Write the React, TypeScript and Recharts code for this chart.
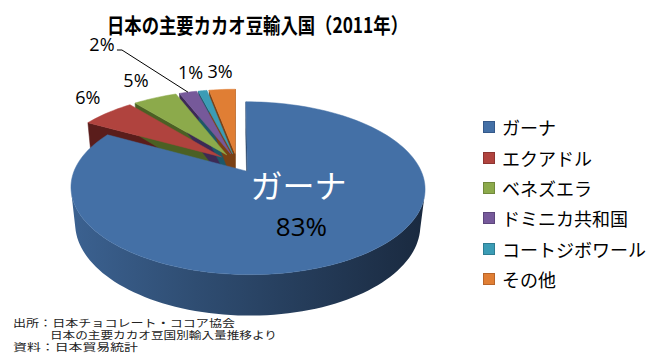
import React from "react";
import { PieChart, Pie, Cell, Legend } from "recharts";

if (typeof document !== "undefined") document.body.style.margin = "0";

// ---- data ----
const countries = ["ガーナ", "エクアドル", "ベネズエラ", "ドミニカ共和国", "コートジボワール", "その他"];
const shares = [83, 6, 5, 2, 1, 3];
const titleText = "日本の主要カカオ豆輸入国（2011年）";
const sourceLines = ["出所：日本チョコレート・ココア協会", "日本の主要カカオ豆国別輸入量推移より", "資料：日本貿易統計"];

const data = countries.map((name, i) => ({ name, value: shares[i] }));

// ---- style ----
const TOP = ["#4470A6", "#B0433E", "#8CAA4B", "#76599A", "#3B9CB5", "#E07E34"];
const SIDE = ["#2a4566", "#5a1d1b", "#4b6024", "#3c2a55", "#1e5767", "#7a4014"];
const LEG_BORDER = ["#35598a", "#8e3431", "#71893b", "#5d467c", "#2e7d92", "#b8652a"];
const JP = "'Noto Sans CJK JP', 'Noto Sans', sans-serif";
const NUM = "'Open Sans', 'Noto Sans', sans-serif";

const RAD = Math.PI / 180;
const VIEW = { F: 790, D: 4.64, tilt: 28, H: 0.24, explode: 0.12 };
const ST = Math.sin(VIEW.tilt * RAD);
const CT = Math.cos(VIEW.tilt * RAD);
const CX = 237;
const CY = 163;

// label nudges (px) relative to computed anchor
const LABEL_R = 1.2;
const LABEL_NUDGE: [number, number][] = [[0, 0], [0, -8], [-7, -8], [-79, -38], [-7, -8], [0, -8]];
const LEADER = [false, false, false, true, false, false];
const GHANA_NAME_OFF: [number, number] = [7, -22];
const GHANA_PCT_OFF: [number, number] = [10, 20];

function project(cx: number, cy: number, X: number, Y: number, Z: number): [number, number] {
  const up = Y * CT - Z * ST;
  const w = VIEW.D - (Y * ST + Z * CT);
  return [cx + (VIEW.F * X) / w, cy - (VIEW.F * up) / w];
}

function geometry(props: any) {
  const { cx, cy, startAngle, endAngle } = props;
  const mid = (startAngle + endAngle) / 2;
  const ox = VIEW.explode * Math.cos(mid * RAD);
  const oz = -VIEW.explode * Math.sin(mid * RAD);
  const n = Math.max(6, Math.ceil(Math.abs(endAngle - startAngle) / 2));
  const angles: number[] = [];
  for (let k = 0; k <= n; k++) angles.push(startAngle + ((endAngle - startAngle) * k) / n);
  const pt = (a: number, r: number, Y: number) =>
    project(cx, cy, ox + r * Math.cos(a * RAD), Y, oz - r * Math.sin(a * RAD));
  return { cx, cy, mid, ox, oz, angles, pt, startAngle, endAngle };
}

const toPath = (pts: [number, number][]) =>
  "M" + pts.map((p) => `${p[0].toFixed(2)},${p[1].toFixed(2)}`).join("L") + "Z";

function renderSides(props: any) {
  const g = geometry(props);
  const i = props.index;
  const H = -VIEW.H;
  const camZ = VIEW.D * CT;
  const els: any[] = [];
  const sign = Math.sign(g.endAngle - g.startAngle) || 1;
  const edges = [
    { a: g.startAngle, n: [sign * Math.sin(g.startAngle * RAD), sign * Math.cos(g.startAngle * RAD)] },
    { a: g.endAngle, n: [-sign * Math.sin(g.endAngle * RAD), -sign * Math.cos(g.endAngle * RAD)] },
  ];
  edges.forEach((e, k) => {
    const vis = e.n[0] * (0 - g.ox) + e.n[1] * (camZ - g.oz) > 0;
    if (!vis) return;
    const o1 = g.pt(0, 0, 0);
    const p1 = g.pt(e.a, 1, 0);
    const p2 = g.pt(e.a, 1, H);
    const o2 = g.pt(0, 0, H);
    els.push(<path key={"f" + k} d={toPath([o1, p1, p2, o2])} fill={SIDE[i]} stroke={SIDE[i]} strokeWidth={0.5} />);
  });
  const vis = g.angles.map((a) => {
    const nx = Math.cos(a * RAD);
    const nz = -Math.sin(a * RAD);
    const px = g.ox + nx;
    const pz = g.oz + nz;
    return nx * (0 - px) + nz * (camZ - pz) > 0;
  });
  let run: number[] = [];
  const runs: number[][] = [];
  for (let k = 0; k < g.angles.length - 1; k++) {
    if (vis[k] || vis[k + 1]) run.push(k);
    else if (run.length) {
      runs.push(run);
      run = [];
    }
  }
  if (run.length) runs.push(run);
  const gid = "wallGrad" + i;
  runs.forEach((r, k) => {
    const top: [number, number][] = [];
    const bot: [number, number][] = [];
    for (let j = r[0]; j <= r[r.length - 1] + 1; j++) {
      top.push(g.pt(g.angles[j], 1, 0));
      bot.push(g.pt(g.angles[j], 1, H));
    }
    els.push(
      <path key={"w" + k} d={toPath([...top, ...bot.reverse()])} fill={`url(#${gid})`} stroke="none" />
    );
  });
  const xl = g.pt(180, 1, 0)[0];
  const xr = g.pt(0, 1, 0)[0];
  return (
    <g key={"side" + i}>
      <defs>
        <linearGradient id={gid} gradientUnits="userSpaceOnUse" x1={xl} y1={0} x2={xr} y2={0}>
          <stop offset="0%" stopColor={i === 0 ? "#3b6190" : SIDE[i]} />
          <stop offset="35%" stopColor={i === 0 ? "#2f4d72" : SIDE[i]} />
          <stop offset="100%" stopColor={i === 0 ? "#1a2a40" : SIDE[i]} />
        </linearGradient>
      </defs>
      {els}
    </g>
  );
}

function renderTops(props: any) {
  const g = geometry(props);
  const i = props.index;
  const pts: [number, number][] = [g.pt(0, 0, 0), ...g.angles.map((a) => g.pt(a, 1, 0))];
  const pctText = `${Math.round((props.percent ?? props.value / 100) * 100)}%`;
  const els: any[] = [<path key="top" d={toPath(pts)} fill={TOP[i]} stroke={TOP[i]} strokeWidth={0.5} />];
  if (i === 0) {
    const a = g.pt(g.mid, 0.45, 0);
    els.push(
      <text key="nm" x={a[0] + GHANA_NAME_OFF[0]} y={a[1] + GHANA_NAME_OFF[1]} fill="#fff" fontSize={32}
        fontFamily={JP} textAnchor="middle" dominantBaseline="central">{props.name}</text>
    );
    els.push(
      <text key="pc" x={a[0] + GHANA_PCT_OFF[0]} y={a[1] + GHANA_PCT_OFF[1]} fill="#000" fontSize={26}
        fontFamily={NUM} textAnchor="middle" dominantBaseline="central">{pctText}</text>
    );
  } else {
    const base = project(g.cx, g.cy, (LABEL_R + VIEW.explode) * Math.cos(g.mid * RAD), 0,
      -(LABEL_R + VIEW.explode) * Math.sin(g.mid * RAD));
    const lx = base[0] + LABEL_NUDGE[i][0];
    const ly = base[1] + LABEL_NUDGE[i][1];
    if (LEADER[i]) {
      const end = g.pt(g.mid, 1, 0);
      els.push(
        <polyline key="ld" points={`${lx + 15},${ly + 6} ${lx + 20},${ly + 6} ${end[0]},${end[1]}`}
          fill="none" stroke="#000" strokeWidth={1} />
      );
    }
    els.push(
      <text key="pc" x={lx} y={ly} fill="#000" fontSize={18} fontFamily={NUM} textAnchor="middle"
        dominantBaseline="central">{pctText}</text>
    );
  }
  return <g key={"top" + i}>{els}</g>;
}

const renderLegend = (p: any) => {
  const payload: any[] = p && p.payload ? p.payload : [];
  const items = countries.map((c, i) => {
    const found = payload.find((e) => e && e.value === c);
    return { value: found ? found.value : c };
  });
  return (
    <div>
      {items.map((it: any, i: number) => (
        <div key={i} style={{ display: "flex", alignItems: "center", height: 30.4 }}>
          <span style={{ display: "inline-block", boxSizing: "border-box", width: 12, height: 12,
            background: TOP[i], border: `1px solid ${LEG_BORDER[i]}`, marginRight: 7 }} />
          <span style={{ fontSize: 18, fontFamily: JP, color: "#000", lineHeight: "30px", whiteSpace: "nowrap" }}>
            {it.value}
          </span>
        </div>
      ))}
    </div>
  );
};

export default function App() {
  return (
    <div style={{ position: "relative", width: 661, height: 363, background: "#fff", overflow: "hidden" }}>
      <PieChart width={661} height={363} margin={{ top: 0, right: 0, bottom: 0, left: 0 }}>
        <Pie data={data} dataKey="value" nameKey="name" cx={CX} cy={CY} outerRadius={100}
          startAngle={90} endAngle={-270} isAnimationActive={false} label={renderSides}
          labelLine={false} legendType="none" stroke="none">
          {data.map((d, i) => <Cell key={i} fill={TOP[i]} fillOpacity={0} stroke="none" />)}
        </Pie>
        <Pie data={data} dataKey="value" nameKey="name" cx={CX} cy={CY} outerRadius={100}
          startAngle={90} endAngle={-270} isAnimationActive={false} label={renderTops}
          labelLine={false} legendType="square" stroke="none">
          {data.map((d, i) => <Cell key={i} fill={TOP[i]} fillOpacity={0} stroke="none" />)}
        </Pie>
        <Legend layout="vertical" align="right" verticalAlign="top" content={renderLegend}
          wrapperStyle={{ position: "absolute", left: 483, top: 112, width: 178 }} />
      </PieChart>
      <svg width={661} height={363} style={{ position: "absolute", left: 0, top: 0, pointerEvents: "none" }}>
        <text x={107} y={33} fontSize={21} fontWeight="bold" fontFamily={JP} fill="#000"
          textLength={301} lengthAdjust="spacingAndGlyphs">{titleText}</text>
        <text x={13} y={327} fontSize={10.5} fontFamily={JP} fill="#222" textLength={222}
          lengthAdjust="spacingAndGlyphs">{sourceLines[0]}</text>
        <text x={50} y={339} fontSize={10.5} fontFamily={JP} fill="#222" textLength={227}
          lengthAdjust="spacingAndGlyphs">{sourceLines[1]}</text>
        <text x={13} y={351} fontSize={10.5} fontFamily={JP} fill="#222" textLength={125}
          lengthAdjust="spacingAndGlyphs">{sourceLines[2]}</text>
      </svg>
    </div>
  );
}
